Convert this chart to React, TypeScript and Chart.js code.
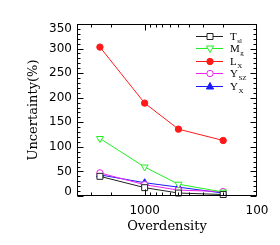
import React, { useEffect, useRef } from 'react';
import { Chart, registerables } from 'chart.js';

Chart.register(...registerables);

const overdensity = [2500, 1000, 500, 200];
const tslValues = [40, 17, 6, 3];
const mgValues = [117, 59, 24, 8];
const lxValues = [303, 189, 136, 113];
const yszValues = [47, 23, 12, 9];
const yxValues = [43, 27, 18, 6];

const xTickLabels = [1000, 100];
const xMinorTicks = [200, 300, 400, 500, 600, 700, 800, 900, 2000, 3000, 4000];
const yMin = 0;
const yMax = 350;
const yMajorStep = 50;
const yMinorStep = 10;

type Series = {
  main: string;
  sub: string;
  values: number[];
  color: string;
  style: 'rect' | 'triangleDown' | 'circle' | 'triangle';
  filled: boolean;
};

const series: Series[] = [
  { main: 'T', sub: 'sl', values: tslValues, color: '#222222', style: 'rect', filled: false },
  { main: 'M', sub: 'g', values: mgValues, color: '#22ee22', style: 'triangleDown', filled: false },
  { main: 'L', sub: 'X', values: lxValues, color: '#ff1a1a', style: 'circle', filled: true },
  { main: 'Y', sub: 'SZ', values: yszValues, color: '#ee22ee', style: 'circle', filled: false },
  { main: 'Y', sub: 'X', values: yxValues, color: '#1a1aff', style: 'triangle', filled: true },
];

function drawMarker(ctx: CanvasRenderingContext2D, s: Series, x: number, y: number) {
  ctx.save();
  ctx.beginPath();
  if (s.style === 'rect') {
    ctx.rect(x - 3, y - 3, 6, 6);
  } else if (s.style === 'circle') {
    ctx.arc(x, y, 3.2, 0, Math.PI * 2);
  } else if (s.style === 'triangle') {
    ctx.moveTo(x, y - 4);
    ctx.lineTo(x + 3.6, y + 2.5);
    ctx.lineTo(x - 3.6, y + 2.5);
    ctx.closePath();
  } else {
    ctx.moveTo(x, y + 4);
    ctx.lineTo(x + 3.6, y - 2.5);
    ctx.lineTo(x - 3.6, y - 2.5);
    ctx.closePath();
  }
  ctx.fillStyle = s.filled ? s.color : '#ffffff';
  ctx.fill();
  ctx.strokeStyle = s.color;
  ctx.lineWidth = 1;
  ctx.stroke();
  ctx.restore();
}

const framePlugin = {
  id: 'frameAndLegend',
  afterDraw(chart: any) {
    const { ctx, chartArea } = chart;
    const { left, right, top, bottom } = chartArea;
    const xs = chart.scales.x;
    const ys = chart.scales.y;
    ctx.save();
    ctx.strokeStyle = '#000';
    ctx.lineWidth = 1;
    const L = Math.round(left) + 0.5;
    const R = Math.round(right) - 0.5;
    const T = Math.round(top) + 0.5;
    const B = Math.round(bottom) - 0.5;
    ctx.strokeRect(L, T, R - L, B - T);
    ctx.beginPath();
    for (let v = yMin; v <= yMax; v += yMinorStep) {
      const py = Math.round(ys.getPixelForValue(v)) + 0.5;
      const len = v % yMajorStep === 0 ? 6 : 3;
      ctx.moveTo(L, py);
      ctx.lineTo(L + len, py);
      ctx.moveTo(R, py);
      ctx.lineTo(R - len, py);
    }
    const allX = [...xMinorTicks.map((v) => [v, 3]), ...xTickLabels.map((v) => [v, 6])];
    for (const [v, len] of allX) {
      const px = Math.round(xs.getPixelForValue(v)) + 0.5;
      if (px < L - 0.1 || px > R + 0.1) continue;
      ctx.moveTo(px, B);
      ctx.lineTo(px, B - len);
      ctx.moveTo(px, T);
      ctx.lineTo(px, T + len);
    }
    ctx.stroke();

    // y tick labels, kept inside the frame height at the ends
    ctx.fillStyle = '#000';
    ctx.font = '12px "DejaVu Sans"';
    ctx.textAlign = 'right';
    ctx.textBaseline = 'middle';
    for (const t of ys.ticks) {
      let py = ys.getPixelForValue(t.value);
      py = Math.max(top + 5, Math.min(bottom - 4, py));
      ctx.fillText(String(t.value), left - 5, py);
    }

    // legend
    const lx0 = 196;
    const lx1 = 223;
    const mx = 210;
    const tx = 230;
    series.forEach((s, i) => {
      const y = Math.round(36 + i * 12.4) + 0.5;
      ctx.beginPath();
      ctx.strokeStyle = s.color;
      ctx.lineWidth = 1;
      ctx.moveTo(lx0, y);
      ctx.lineTo(lx1, y);
      ctx.stroke();
      drawMarker(ctx, s, mx, y);
      ctx.fillStyle = '#000';
      ctx.textBaseline = 'alphabetic';
      ctx.textAlign = 'left';
      ctx.font = '11px "Liberation Serif"';
      ctx.fillText(s.main, tx, y + 3.5);
      const w = ctx.measureText(s.main).width;
      ctx.font = '7px "Liberation Serif"';
      ctx.fillText(s.sub, tx + w + 0.5, y + 6);
    });
    ctx.restore();
  },
};

export default function App() {
  const canvasRef = useRef<HTMLCanvasElement | null>(null);

  useEffect(() => {
    const canvas = canvasRef.current;
    if (!canvas) return;
    const datasets = series.map((s) => ({
      label: s.main + s.sub,
      data: overdensity.map((x, i) => ({ x, y: s.values[i] })),
      borderColor: s.color,
      borderWidth: 1,
      backgroundColor: s.filled ? s.color : '#ffffff',
      pointBackgroundColor: s.filled ? s.color : '#ffffff',
      pointBorderColor: s.color,
      pointBorderWidth: 1,
      pointStyle: s.style === 'triangleDown' ? 'triangle' : s.style,
      rotation: s.style === 'triangleDown' ? 180 : 0,
      pointRadius: s.style === 'rect' ? 4.2 : s.style === 'circle' ? 3.2 : 4,
      tension: 0,
      fill: false,
      clip: false as any,
    }));

    const chart = new Chart(canvas, {
      type: 'line',
      data: { datasets },
      options: {
        animation: false,
        responsive: true,
        maintainAspectRatio: false,
        layout: { padding: { left: 0, right: 23, top: 24, bottom: 0 } },
        plugins: { legend: { display: false }, tooltip: { enabled: false } },
        scales: {
          x: {
            type: 'logarithmic',
            reverse: true,
            min: 100,
            max: 4000,
            afterBuildTicks: (s: any) => {
              s.ticks = xTickLabels.map((v) => ({ value: v }));
            },
            afterFit: (s: any) => {
              s.height = 49;
            },
            ticks: {
              autoSkip: false,
              maxRotation: 0,
              padding: 8,
              color: '#000',
              font: { family: 'DejaVu Sans', size: 12 },
              callback: (v: any) => String(v),
            },
            grid: { display: false, drawTicks: false },
            border: { display: false },
            title: {
              display: true,
              text: 'Overdensity',
              color: '#000',
              font: { family: 'DejaVu Serif', size: 13 },
              padding: { top: 0, bottom: 11 },
            },
          },
          y: {
            min: yMin,
            max: yMax,
            afterFit: (s: any) => {
              s.width = 77;
            },
            ticks: {
              stepSize: yMajorStep,
              padding: 5,
              color: 'rgba(0,0,0,0)',
              font: { family: 'DejaVu Sans', size: 12 },
            },
            grid: { display: false, drawTicks: false },
            border: { display: false },
            title: {
              display: true,
              text: 'Uncertainty(%)',
              color: '#000',
              font: { family: 'DejaVu Serif', size: 13 },
              padding: { top: 26, bottom: 0 },
            },
          },
        },
      },
      plugins: [framePlugin],
    });
    return () => chart.destroy();
  }, []);

  return (
    <div style={{ position: 'fixed', left: 0, top: 0, width: 280, height: 245, background: '#fff' }}>
      <canvas ref={canvasRef} />
    </div>
  );
}
